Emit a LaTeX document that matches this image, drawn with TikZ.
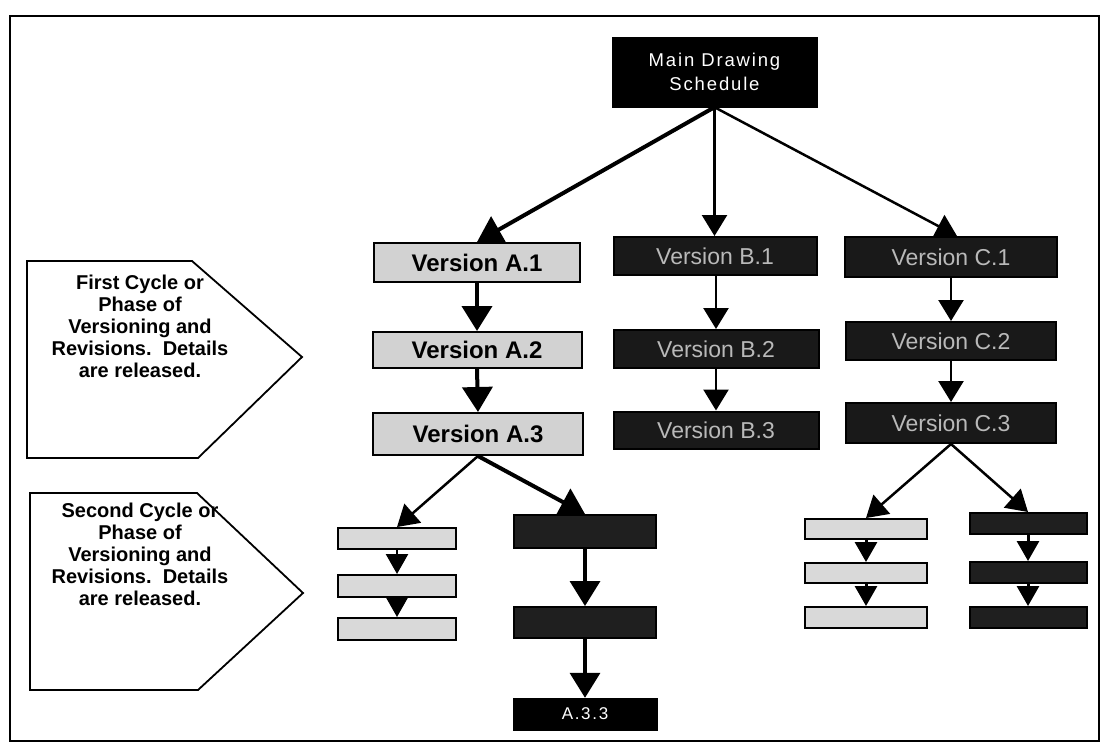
\documentclass[tikz,border=0pt]{standalone}
\usepackage{fontspec}
\setmainfont{Liberation Sans}
\newfontfamily\spacedfont[LetterSpace=10]{Liberation Sans}
\usetikzlibrary{arrows.meta,calc}
\begin{document}
\begin{tikzpicture}[x=1pt,y=-1pt,
  abox/.style={draw=black,line width=2pt,fill=gray!35,minimum height=38pt,inner sep=0pt,
    font=\fontsize{24}{26}\selectfont\bfseries},
  dbox/.style={draw=black,line width=2pt,fill=black!90,text=gray!55,minimum height=38pt,inner sep=0pt,
    font=\fontsize{23}{26}\selectfont},
  sabox/.style={draw=black,line width=2pt,fill=gray!30,inner sep=0pt},
  sdbox/.style={draw=black,line width=2pt,fill=black!88,inner sep=0pt},
  bigarr/.style={line width=4pt,-{Triangle[width=30pt,length=25pt]}},
  medarr/.style={line width=2.5pt,-{Triangle[width=25pt,length=21pt]}},
  smallarr/.style={line width=2.5pt,-{Triangle[width=22pt,length=20pt]}},
  phase/.style={draw=black,line width=1.8pt,fill=white},
  phasetext/.style={align=center,font=\fontsize{20}{22}\selectfont\bfseries}
]
\useasboundingbox (0,0) rectangle (1103,748);
% frame
\draw[line width=2.5pt] (10,16) rectangle (1099,741);

% main node
\node[fill=black,draw=black,minimum width=205pt,minimum height=70pt,inner sep=0pt,text=white,align=center,
  font=\spacedfont\fontsize{18.5}{24}\selectfont] (main) at (714.5,72) {Main Drawing\\Schedule};

% first cycle
\node[abox,minimum width=206pt,minimum height=39pt] (A1) at (477,262.5) {Version A.1};
\node[abox,minimum width=209pt,minimum height=36pt] (A2) at (477,350) {Version A.2};
\node[abox,minimum width=210pt,minimum height=42pt] (A3) at (478,434) {Version A.3};

\node[dbox,minimum width=203pt] (B1) at (715,256) {Version B.1};
\node[dbox,minimum width=205pt] (B2) at (716,349) {Version B.2};
\node[dbox,minimum width=205pt,minimum height=37pt] (B3) at (716,430) {Version B.3};

\node[dbox,minimum width=212pt,minimum height=40pt] (C1) at (951,257) {Version C.1};
\node[dbox,minimum width=210pt] (C2) at (951,341) {Version C.2};
\node[dbox,minimum width=210pt,minimum height=40pt] (C3) at (951,423) {Version C.3};

% second cycle
\node[sabox,minimum width=118pt,minimum height=21pt] (AL1) at (397,538.5) {};
\node[sabox,minimum width=118pt,minimum height=22pt] (AL2) at (397,586) {};
\node[sabox,minimum width=118pt,minimum height=22pt] (AL3) at (397,629) {};

\node[sdbox,minimum width=142pt,minimum height=33pt] (AR1) at (585,531.5) {};
\node[sdbox,minimum width=142pt,minimum height=31pt] (AR2) at (585,622.5) {};
\node[fill=black,draw=black,minimum width=144pt,minimum height=32pt,inner sep=0pt,text=white,
  font=\spacedfont\fontsize{17}{20}\selectfont] (AR3) at (585,714) {A.3.3};

\node[sabox,minimum width=122pt,minimum height=20pt] (CL1) at (866,529) {};
\node[sabox,minimum width=122pt,minimum height=20pt] (CL2) at (866,573) {};
\node[sabox,minimum width=122pt,minimum height=21pt] (CL3) at (866,617.5) {};

\node[sdbox,minimum width=117pt,minimum height=21pt] (CR1) at (1028,523.5) {};
\node[sdbox,minimum width=117pt,minimum height=21pt] (CR2) at (1028,572.5) {};
\node[sdbox,minimum width=117pt,minimum height=21pt] (CR3) at (1028,617.5) {};

% connectors from main
\draw[bigarr] (main.south) -- (A1.north);
\draw[medarr] (main.south) -- (main.south |- B1.north);
\draw[medarr] (main.south) -- ($(C1.north)+(6,0)$);

% first cycle columns
\draw[bigarr] (A1.south) -- (A2.north);
\draw[bigarr] (A2.south) -- (A3.north);
\draw[medarr] (B1.south -| B2.north) -- (B2.north);
\draw[medarr] (B2.south) -- (B3.north);
\draw[medarr] (C1.south) -- (C2.north);
\draw[medarr] (C2.south) -- (C3.north);

% A.3 branches
\draw[medarr] (A3.south) -- (AL1.north);
\draw[bigarr] (A3.south) -- (AR1.north);
\draw[smallarr] (AL1.south) -- (AL2.north);
\draw[smallarr] (AL2.south) -- (AL3.north);
\draw[bigarr,line width=3.5pt] (AR1.south) -- (AR2.north);
\draw[bigarr,line width=3.5pt] (AR2.south) -- (AR3.north);

% C.3 branches
\draw[medarr] (C3.south) -- (CL1.north);
\draw[medarr] (C3.south) -- (CR1.north);
\draw[smallarr,line width=3pt] (CL1.south) -- (CL2.north);
\draw[smallarr,line width=3pt] (CL2.south) -- (CL3.north);
\draw[smallarr,line width=3pt] (CR1.south) -- (CR2.north);
\draw[smallarr,line width=3pt] (CR2.south) -- (CR3.north);

% phase pentagons
\draw[phase] (27,261) -- (192,261) -- (302,357) -- (198,458) -- (27,458) -- cycle;
\node[phasetext] (P1) at (140,326) {First Cycle or\\Phase of\\Versioning and\\Revisions.\ \ Details\\are released.};
\draw[phase] (30,493) -- (197,493) -- (303,593) -- (198,690) -- (30,690) -- cycle;
\node[phasetext] (P2) at (140,554) {Second Cycle or\\Phase of\\Versioning and\\Revisions.\ \ Details\\are released.};
\end{tikzpicture}
\end{document}
